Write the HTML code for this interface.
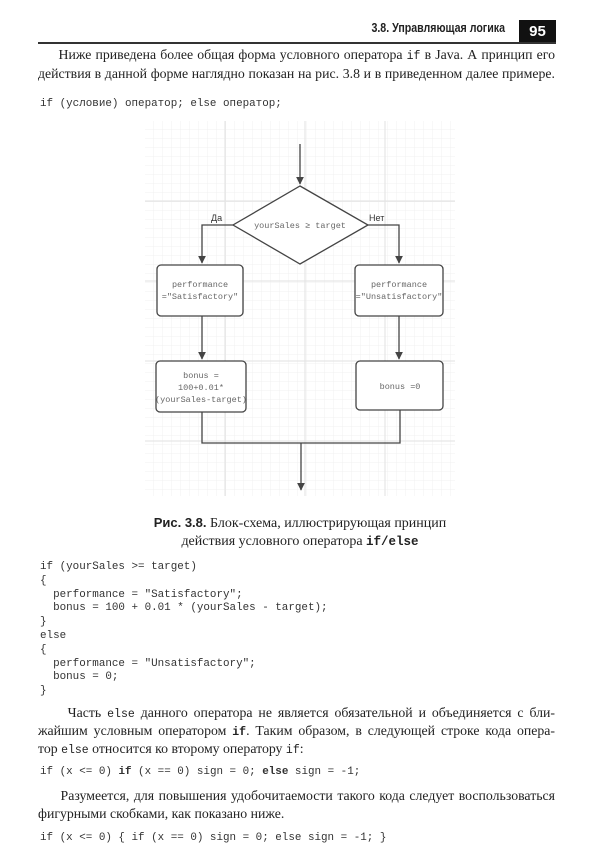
<!DOCTYPE html>
<html><head><meta charset="utf-8"><style>
body{margin:0;background:#fff;}
#p{position:relative;width:600px;height:853px;overflow:hidden;background:#fff;color:#222;font-family:"Liberation Serif","Noto Serif CJK SC",serif;}
.t{position:absolute;left:38px;width:517px;font-size:13.8px;white-space:nowrap;text-align:justify;text-align-last:justify;line-height:18px;}
.l{text-align-last:left;}
.c{position:absolute;left:40px;font-family:"Liberation Mono",monospace;font-size:10.9px;white-space:pre;color:#333;line-height:13px;}
.m{font-family:"Liberation Mono",monospace;font-size:11.5px;}
</style></head><body><div id="p">
<div style="position:absolute;left:300px;top:21px;width:205px;text-align:right;font-family:'Liberation Sans',sans-serif;font-weight:bold;font-size:12.5px;color:#222;transform:scaleX(0.85);transform-origin:right;">3.8. Управляющая логика</div>
<div style="position:absolute;left:519px;top:20px;width:37px;height:23px;background:#111;color:#fff;font-family:'Liberation Sans',sans-serif;font-weight:bold;font-size:15px;text-align:center;line-height:23px;">95</div>
<div style="position:absolute;left:38px;top:42px;width:518px;height:2px;background:#333;"></div>

<div class="t" style="top:46px;">&nbsp;&nbsp;&nbsp;&nbsp;&nbsp;Ниже приведена более общая форма условного оператора <span class="m">if</span> в Java. А принцип его</div>
<div class="t" style="top:65px;">действия в данной форме наглядно показан на рис. 3.8 и в приведенном далее примере.</div>
<div class="c" style="top:98px;">if (условие) оператор; else оператор;</div>

<svg style="position:absolute;left:0;top:0" width="600" height="853">
<defs><pattern id="g" x="145" y="121" width="9" height="9" patternUnits="userSpaceOnUse"><path d="M9 0V9H0" fill="none" stroke="#f0f0f0" stroke-width="1"/></pattern>
<marker id="a" viewBox="0 0 10 10" refX="9" refY="5" markerWidth="6" markerHeight="6" orient="auto"><path d="M0 0L10 5L0 10z" fill="#444"/></marker></defs>
<rect x="145" y="121" width="310" height="375" fill="url(#g)"/>
<g stroke="#e2e2e2" stroke-width="1"><line x1="225" y1="121" x2="225" y2="496"/><line x1="305" y1="121" x2="305" y2="496"/><line x1="385" y1="121" x2="385" y2="496"/><line x1="145" y1="201" x2="455" y2="201"/><line x1="145" y1="281" x2="455" y2="281"/><line x1="145" y1="361" x2="455" y2="361"/><line x1="145" y1="441" x2="455" y2="441"/></g>
<g stroke="#444" stroke-width="1.3" fill="none">
<line x1="300" y1="144" x2="300" y2="184" marker-end="url(#a)"/>
<polygon points="300,186 368,225 300,264 233,225" fill="#fff"/>
<polyline points="233,225 202,225 202,263" marker-end="url(#a)"/>
<polyline points="368,225 399,225 399,263" marker-end="url(#a)"/>
<rect x="157" y="265" width="86" height="51" rx="4" fill="#fff"/>
<rect x="355" y="265" width="88" height="51" rx="4" fill="#fff"/>
<line x1="202" y1="316" x2="202" y2="359" marker-end="url(#a)"/>
<line x1="399" y1="316" x2="399" y2="359" marker-end="url(#a)"/>
<rect x="156" y="361" width="90" height="51" rx="4" fill="#fff"/>
<rect x="356" y="361" width="87" height="49" rx="4" fill="#fff"/>
<polyline points="202,412 202,443 400,443 400,410"/>
<line x1="301" y1="443" x2="301" y2="490" marker-end="url(#a)"/>
</g>
<g font-family="Liberation Mono,monospace" font-size="8.5" fill="#666" text-anchor="middle">
<text x="300" y="228">yourSales ≥  target</text>
<text x="200" y="287">performance</text><text x="200" y="299">="Satisfactory"</text>
<text x="399" y="287">performance</text><text x="399" y="299">="Unsatisfactory"</text>
<text x="201" y="378">bonus =</text><text x="201" y="390">100+0.01*</text><text x="201" y="402">(yourSales-target)</text>
<text x="400" y="389">bonus =0</text>
</g>
<g font-family="Liberation Sans,sans-serif" font-size="9" fill="#333"><text x="211" y="221">Да</text><text x="369" y="221">Нет</text></g>
</svg>

<div style="position:absolute;left:0;width:600px;top:514px;text-align:center;font-size:14px;line-height:18px;"><b style="font-family:'Liberation Sans',sans-serif;font-size:13px;">Рис. 3.8.</b> Блок-схема, иллюстрирующая принцип<br>действия условного оператора <b class="m" style="font-size:12.5px">if/else</b></div>

<div class="c" style="top:561px;line-height:13.8px;">if (yourSales &gt;= target)
{
  performance = "Satisfactory";
  bonus = 100 + 0.01 * (yourSales - target);
}
else
{
  performance = "Unsatisfactory";
  bonus = 0;
}</div>

<div class="t" style="top:704px;">&nbsp;&nbsp;&nbsp;&nbsp;&nbsp;Часть <span class="m">else</span> данного оператора не является обязательной и объединяется с бли-</div>
<div class="t" style="top:722px;">жайшим условным оператором <b class="m">if</b>. Таким образом, в следующей строке кода опера-</div>
<div class="t l" style="top:740px;">тор <span class="m">else</span> относится ко второму оператору <span class="m">if</span>:</div>
<div class="c" style="top:766px;">if (x &lt;= 0) <b>if</b> (x == 0) sign = 0; <b>else</b> sign = -1;</div>
<div class="t" style="top:787px;">&nbsp;&nbsp;&nbsp;&nbsp;&nbsp;Разумеется, для повышения удобочитаемости такого кода следует воспользоваться</div>
<div class="t l" style="top:805px;">фигурными скобками, как показано ниже.</div>
<div class="c" style="top:832px;">if (x &lt;= 0) { if (x == 0) sign = 0; else sign = -1; }</div>
</div></body></html>
